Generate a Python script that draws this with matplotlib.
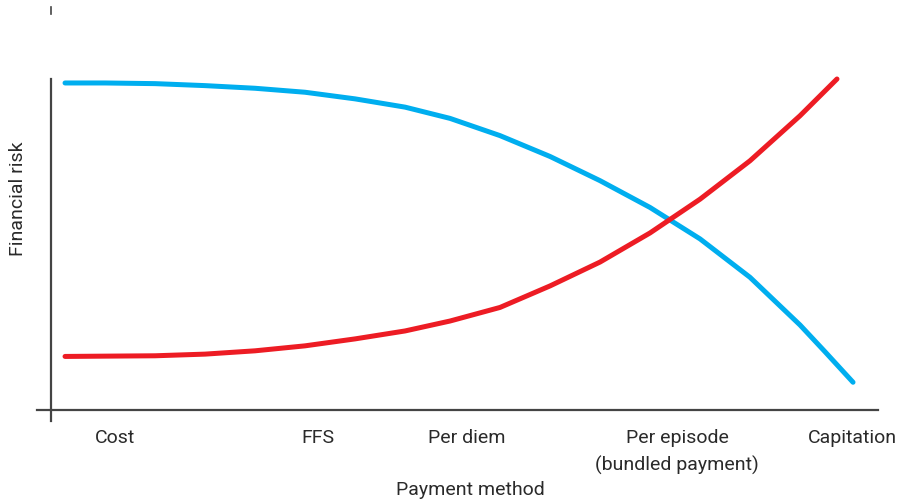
import matplotlib
matplotlib.use("Agg")
import matplotlib.pyplot as plt
from matplotlib.lines import Line2D

plt.rcParams['font.family'] = ['Roboto', 'DejaVu Sans']

# Payment methods along the x axis (position on a 0-100 scale)
categories = ["Cost", "FFS", "Per diem", "Per episode\n(bundled payment)", "Capitation"]
category_pos = [7.7, 32.3, 50.3, 75.7, 96.9]

# Financial risk borne by the payer (blue)
payer_x = [1.69, 6.53, 12.58, 18.62, 24.67, 30.71, 36.76, 42.81, 48.25, 54.29,
           60.34, 66.38, 72.43, 78.48, 84.52, 90.57, 93.6, 96.98]
payer_risk = [98.8, 98.8, 98.6, 98.0, 97.2, 96.0, 94.0, 91.5, 88.1, 82.9,
              76.6, 69.3, 61.2, 51.7, 40.1, 25.7, 17.6, 8.4]

# Financial risk borne by the provider (red)
provider_x = [1.69, 12.58, 18.62, 24.67, 30.71, 36.76, 42.81, 48.25, 54.29,
              60.34, 66.38, 72.43, 78.48, 84.52, 90.57, 95.04]
provider_risk = [16.2, 16.4, 16.9, 17.9, 19.4, 21.5, 23.9, 26.9, 31.0,
                 37.5, 44.7, 53.5, 63.7, 75.3, 88.9, 100.0]

W, H = 902, 502
fig = plt.figure(figsize=(W / 100, H / 100), dpi=100)
ax = fig.add_axes([37 / W, 1 - 422 / H, (878 - 37) / W, (422 - 80) / H])

ax.plot(payer_x, payer_risk, color="#00AEEF", lw=3.6, solid_capstyle="round",
        solid_joinstyle="round", clip_on=False)
ax.plot(provider_x, provider_risk, color="#ED1C24", lw=3.6, solid_capstyle="round",
        solid_joinstyle="round", clip_on=False)

ax.set_xlim(-1.7, 100)
ax.set_ylim(-3.3, 100)

for s in ["top", "right"]:
    ax.spines[s].set_visible(False)
ax.spines["bottom"].set_position(("data", 0))
ax.spines["left"].set_position(("data", 0))
for s in ["bottom", "left"]:
    ax.spines[s].set_color("#444444")
    ax.spines[s].set_linewidth(1.6)

ax.set_xticks(category_pos)
ax.set_xticklabels(categories, fontsize=14, color="#2a2a2a", linespacing=1.6)
ax.tick_params(axis="x", length=0, pad=13)
ax.set_yticks([])

fig.text(470 / W, 1 - 490 / H, "Payment method", ha="center", va="center",
         fontsize=14, color="#2a2a2a")
fig.text(18 / W, 1 - 199 / H, "Financial risk", ha="center", va="center",
         rotation=90, fontsize=14, color="#2a2a2a")

# short stroke above the vertical axis
fig.add_artist(Line2D([51 / W, 51 / W], [1 - 8 / H, 1 - 15 / H], color="#444444", lw=1.2))

fig.savefig("out.png", dpi=100, facecolor="white")
